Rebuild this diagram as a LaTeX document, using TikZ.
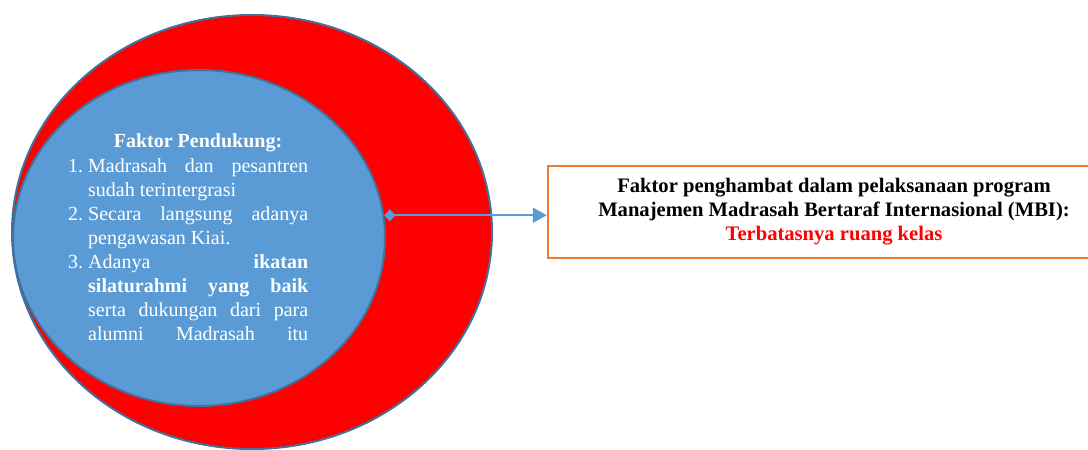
\documentclass[tikz,border=0pt]{standalone}
\usepackage{fontspec}
\setmainfont{Liberation Serif}
\usetikzlibrary{shapes.geometric,arrows.meta}
\definecolor{edgeblue}{HTML}{41719C}
\definecolor{fillblue}{HTML}{5B9BD5}
\definecolor{boxorange}{HTML}{ED7D31}
\definecolor{redfill}{HTML}{FF0000}
\begin{document}
\begin{tikzpicture}[x=1pt,y=-1pt,
  ring/.style={ellipse, draw=edgeblue, line width=2pt, inner sep=0pt},
  lst/.style={anchor=base west, inner sep=0pt, text=white, font=\fontsize{20}{24}\selectfont},
  infobox/.style={draw=boxorange, line width=2.5pt, minimum width=572pt, minimum height=92pt,
    align=center, inner sep=0pt, font=\fontsize{20.6}{24}\selectfont\bfseries},
  link/.style={draw=fillblue, line width=2pt,
    {Diamond[length=11pt,width=12pt]}-{Triangle[length=14pt,width=15pt]}}]
\useasboundingbox (0,0) rectangle (1088,450);
\clip (0,0) rectangle (1088,450);
\node[ring, fill=redfill, minimum width=480pt, minimum height=434pt] (outer) at (252,232) {};
\node[ring, fill=fillblue, minimum width=372pt, minimum height=336pt] (inner) at (199,238) {};
\node[lst, anchor=base] (title) at (198,147) {\textbf{Faktor Pendukung:}};
\node[lst] (n1) at (68,172) {1.};
\node[lst] (t1) at (88,172) {\makebox[220pt][s]{Madrasah dan pesantren}};
\node[lst] (t1b) at (88,196) {sudah terintergrasi};
\node[lst] (n2) at (68,220) {2.};
\node[lst] (t2) at (88,220) {\makebox[220pt][s]{Secara langsung adanya}};
\node[lst] (t2b) at (88,244) {pengawasan Kiai.};
\node[lst] (n3) at (68,268) {3.};
\node[lst] (t3) at (88,268) {\makebox[220pt][s]{Adanya \textbf{ikatan}}};
\node[lst] (t3b) at (88,292) {\makebox[220pt][s]{\textbf{silaturahmi yang baik}}};
\node[lst] (t3c) at (88,316) {\makebox[220pt][s]{serta dukungan dari para}};
\node[lst] (t3d) at (88,340) {\makebox[220pt][s]{alumni Madrasah itu}};
\node[infobox] (box) at (834,212) {Faktor penghambat dalam pelaksanaan program\\Manajemen Madrasah Bertaraf Internasional (MBI):\\\textcolor{redfill}{Terbatasnya ruang kelas}};
\draw[link] (inner.7.7) -- (inner.7.7 -| box.west);
\end{tikzpicture}
\end{document}
